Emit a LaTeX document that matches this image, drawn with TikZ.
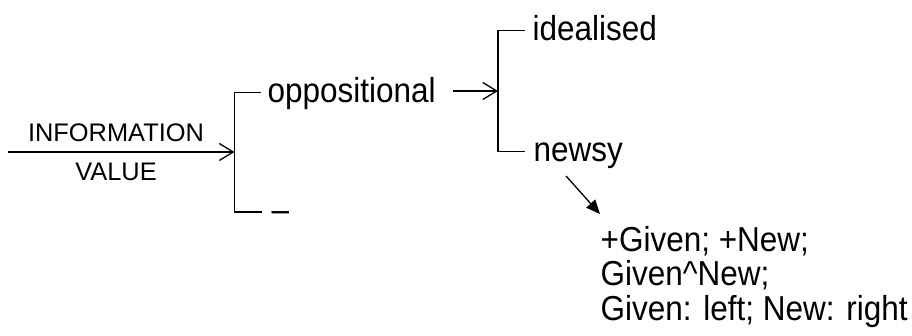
\documentclass[tikz,border=0pt]{standalone}
\usepackage{fontspec}
\setmainfont{Liberation Sans}
\usetikzlibrary{arrows.meta}
\newcommand{\stretched}[1]{\scalebox{1}[1.1]{#1}}
\begin{document}
\begin{tikzpicture}[x=1pt,y=-1pt,
  line width=1.3pt,
  term/.style={inner sep=0pt, anchor=base west, font=\fontsize{31.5}{34.5}\selectfont},
  small/.style={inner sep=0pt, anchor=base, font=\fontsize{25.4}{28}\selectfont},
  openarrow/.style={-{Straight Barb[length=14pt,width=17pt,line width=1.3pt]}},
  solidarrow/.style={-{Triangle[length=14pt,width=12pt]}}]
\useasboundingbox (0,0) rectangle (912,336);

% entry condition
\coordinate (start) at (8,152);
\coordinate (b1) at (234.5,152);
\node[small] (info) at (116,142) {INFORMATION};
\node[small] (val) at (116,181) {VALUE};
\draw[openarrow] (start) -- (b1);

% first system
\coordinate (b1top) at (234.5,92.5);
\coordinate (b1bot) at (234.5,212);
\node[term] (opp) at (267,103) {\stretched{oppositional}};
\node[term] (dash) at (271,221.5) {\stretched{–}};
\draw (261,92.5) -- (b1top) -- (b1bot) -- (262,212);

% second system
\coordinate (a2s) at (453,91);
\coordinate (b2) at (498,91);
\draw[openarrow] (a2s) -- (b2);
\coordinate (b2top) at (498,30.7);
\coordinate (b2bot) at (498,151.7);
\node[term] (ideal) at (532,41) {\stretched{idealised}};
\node[term] (newsy) at (533,162) {\stretched{newsy}};
\draw (525,30.7) -- (b2top) -- (b2bot) -- (525,151.7);

% realisation
\coordinate (r1) at (566,176);
\coordinate (r2) at (600,214);
\draw[solidarrow] (r1) -- (r2);
\node[term] (g1) at (600,252) {\stretched{+Given; +New;}};
\node[term] (g2) at (600,286) {\stretched{Given\^{}New;}};
\node[term] (g3) at (600,320) {\stretched{Given: left; New: right}};
\end{tikzpicture}
\end{document}
